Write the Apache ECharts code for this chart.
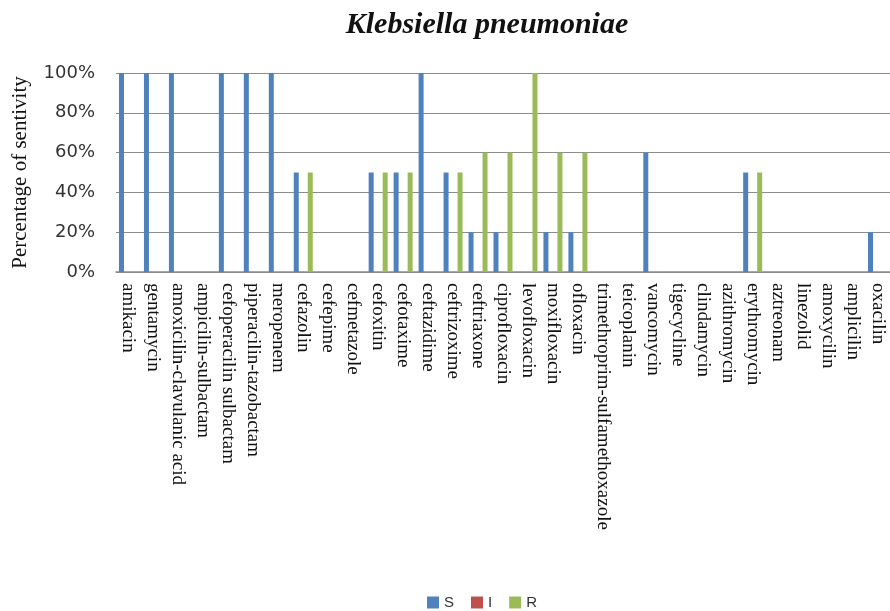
<!DOCTYPE html>
<html>
<head>
<meta charset="utf-8">
<title>Klebsiella pneumoniae</title>
<script src="https://cdn.jsdelivr.net/npm/echarts@6/dist/echarts.min.js"></script>
<style>
  html, body { margin: 0; padding: 0; background: #ffffff; }
  #chart { width: 890px; height: 611px; }
</style>
</head>
<body>
<div id="chart"></div>
<script>
// Antibiotics on the x axis
const antibiotics = [
    'amikacin', 'gentamycin', 'amoxicilin-clavulanic acid', 'ampicilin-sulbactam',
    'cefoperacilin sulbactam', 'piperacilin-tazobactam', 'meropenem', 'cefazolin',
    'cefepime', 'cefmetazole', 'cefoxitin', 'cefotaxime', 'ceftazidime',
    'ceftrizoxime', 'ceftriaxone', 'ciprofloxacin', 'levofloxacin', 'moxifloxacin',
    'ofloxacin', 'trimethroprim-sulfamethoxazole', 'teicoplanin', 'vancomycin',
    'tigecycline', 'clindamycin', 'azithromycin', 'erythromycin', 'aztreonam',
    'linezolid', 'amoxycilin', 'amplicilin', 'oxacilin'
];

// Percentages (S = sensitive, I = intermediate, R = resistant)
const sensitive = [100, 100, 100, 0, 100, 100, 100, 50, 0, 0, 50, 50, 100, 50, 20, 20,
    0, 20, 20, 0, 0, 60, 0, 0, 0, 50, 0, 0, 0, 0, 20];
const intermediate = [0, 0, 0, 0, 0, 0, 0, 0, 0, 0, 0, 0, 0, 0, 0, 0,
    0, 0, 0, 0, 0, 0, 0, 0, 0, 0, 0, 0, 0, 0, 0];
const resistant = [0, 0, 0, 0, 0, 0, 0, 50, 0, 0, 50, 50, 0, 50, 60, 60,
    100, 60, 60, 0, 0, 0, 0, 0, 0, 50, 0, 0, 0, 0, 0];

const yTicks = [0, 20, 40, 60, 80, 100];

const chart = echarts.init(document.getElementById('chart'), null, { renderer: 'canvas' });

const barStyle = (name, color, data) => ({
    name: name,
    type: 'bar',
    barWidth: 5,
    barGap: '40%',
    itemStyle: { color: color },
    data: data
});

chart.setOption({
    animation: false,
    backgroundColor: '#ffffff',
    title: {
        text: 'Klebsiella pneumoniae',
        left: 482,
        top: 5,
        textAlign: 'center',
        textStyle: {
            fontFamily: 'Liberation Serif',
            fontStyle: 'italic',
            fontWeight: 'bold',
            fontSize: 30,
            color: '#111'
        }
    },
    legend: {
        left: 422,
        top: 590,
        itemWidth: 12,
        itemHeight: 12,
        itemGap: 17,
        icon: 'rect',
        textStyle: { fontFamily: 'Liberation Sans', fontSize: 15, color: '#333' },
        data: ['S', 'I', 'R']
    },
    grid: {
        left: 116,
        top: 73,
        width: 787,
        height: 199,
        containLabel: false
    },
    xAxis: {
        type: 'category',
        data: antibiotics,
        axisLine: { lineStyle: { color: '#8c8c8c', width: 1.5 } },
        axisTick: { show: false },
        axisLabel: {
            interval: 0,
            rotate: -90,
            margin: 11,
            fontFamily: 'Liberation Serif',
            fontSize: 19,
            color: '#111'
        }
    },
    yAxis: {
        type: 'value',
        min: yTicks[0],
        max: yTicks[yTicks.length - 1],
        interval: yTicks[1] - yTicks[0],
        name: 'Percentage of sentivity',
        nameLocation: 'middle',
        nameRotate: 90,
        nameGap: 85,
        nameTextStyle: { fontFamily: 'Liberation Serif', fontSize: 21, color: '#111' },
        axisLine: { show: false },
        axisTick: { show: false },
        axisLabel: {
            margin: 21,
            fontFamily: 'DejaVu Sans',
            fontSize: 18,
            color: '#333',
            formatter: '{value}%'
        },
        splitLine: { lineStyle: { color: '#8c8c8c', width: 1 } }
    },
    series: [
        barStyle('S', '#4F81BD', sensitive),
        barStyle('I', '#C0504D', intermediate),
        barStyle('R', '#9BBB59', resistant)
    ]
});
</script>
</body>
</html>
